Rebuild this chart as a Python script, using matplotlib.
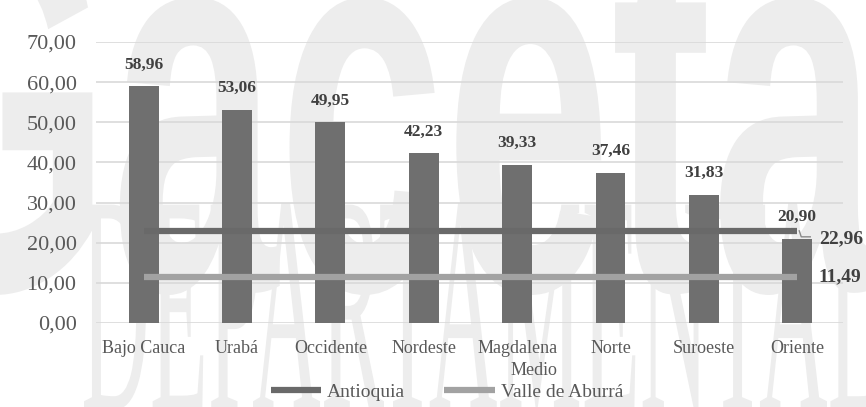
import matplotlib
matplotlib.use('Agg')
import matplotlib.pyplot as plt
from matplotlib.textpath import TextPath
from matplotlib.patches import PathPatch
from matplotlib.font_manager import FontProperties
from matplotlib.transforms import Affine2D, IdentityTransform
from matplotlib.lines import Line2D

# ---------------- data ----------------
categories = ['Bajo Cauca', 'Urabá', 'Occidente', 'Nordeste', 'Magdalena\nMedio',
              'Norte', 'Suroeste', 'Oriente']
values = [58.96, 53.06, 49.95, 42.23, 39.33, 37.46, 31.83, 20.90]
antioquia_value = 22.96
valle_value = 11.49
series_names = ['Antioquia', 'Valle de Aburrá']
yticks = [0, 10, 20, 30, 40, 50, 60, 70]

def fmt(v):
    return f'{v:.2f}'.replace('.', ',')

W, H = 866, 407
plt.rcParams['font.family'] = ['Liberation Serif', 'DejaVu Serif']
fig = plt.figure(figsize=(W / 100, H / 100), dpi=100)
fig.patch.set_facecolor('white')

# ---------------- faint background watermark ----------------
def watermark(s, box, fp, color='#ededed'):
    tp = TextPath((0, 0), s, prop=fp, size=100)
    bb = tp.get_extents()
    x0, y0, x1, y1 = box
    sx = (x1 - x0) / bb.width
    sy = (y1 - y0) / bb.height
    tr = Affine2D().translate(-bb.x0, -bb.y0).scale(sx, sy).translate(x0, H - y1)
    p = PathPatch(tr.transform_path(tp), facecolor=color, edgecolor='none',
                  transform=IdentityTransform(), zorder=-10)
    fig.add_artist(p)

watermark('Gaceta', (-110, -90, 880, 295), FontProperties(family='Liberation Sans', weight='bold'))
watermark('DEPARTAMENTAL', (84, 203, 880, 410), FontProperties(family='Liberation Serif'))

# ---------------- axes ----------------
ax = fig.add_axes([96 / W, 1 - 323 / H, (843 - 96) / W, (323 - 42) / H])
ax.set_facecolor('none')
x = list(range(len(categories)))

ax.bar(x, values, width=0.32, color='#6f6f6f', zorder=3)
l1, = ax.plot(x, [antioquia_value] * len(x), color='#696969', lw=4.5,
              solid_capstyle='butt', zorder=4, label=series_names[0])
l2, = ax.plot(x, [valle_value] * len(x), color='#a2a2a2', lw=4.5,
              solid_capstyle='butt', zorder=4, label=series_names[1])

ax.set_xlim(-0.51, 7.49)
ax.set_ylim(0, 70)
ax.set_yticks(yticks)
ax.set_yticklabels([fmt(v) for v in yticks])
ax.set_xticks(x)
ax.set_xticklabels(categories)
for lab in ax.get_xticklabels():
    lab.set_multialignment('right')
    lab.set_linespacing(1.4)
ax.tick_params(axis='y', length=0, pad=14, labelsize=16, labelcolor='#595959')
ax.tick_params(axis='x', length=0, pad=12, labelsize=13, labelcolor='#595959')
ax.grid(axis='y', color='#d9d9d9', lw=1.2, zorder=0)
for s in ax.spines.values():
    s.set_visible(False)

for xi, v in zip(x, values):
    ax.annotate(fmt(v), (xi, v), xytext=(0, 10), textcoords='offset points',
                ha='center', va='bottom', fontsize=12.5, fontweight='bold',
                color='#404040', zorder=5)

# end-of-line labels
last = x[-1]
ax.annotate(fmt(antioquia_value), (last, antioquia_value), xytext=(15.5, -5.5),
            textcoords='offset points', ha='left', va='center', fontsize=14,
            fontweight='bold', color='#404040')
ax.annotate(fmt(valle_value), (last, valle_value), xytext=(15.5, 0),
            textcoords='offset points', ha='left', va='center', fontsize=14,
            fontweight='bold', color='#404040')

# leader line for the Antioquia label
px, py = ax.transData.transform((last, antioquia_value))
fig.add_artist(Line2D([px + 2, px + 4, px + 13], [py, py - 6, py - 6], color='#8a8a8a',
                      lw=1, transform=IdentityTransform(), zorder=6))

fig.legend(handles=[l1, l2], loc='center', bbox_to_anchor=(447 / W, 1 - 392 / H),
           ncol=2, frameon=False, prop=FontProperties(family='Liberation Serif', size=14),
           handlelength=2.6, handletextpad=0.3, columnspacing=2.0, labelcolor='#595959')

fig.savefig('out.png', dpi=100, facecolor='white')
